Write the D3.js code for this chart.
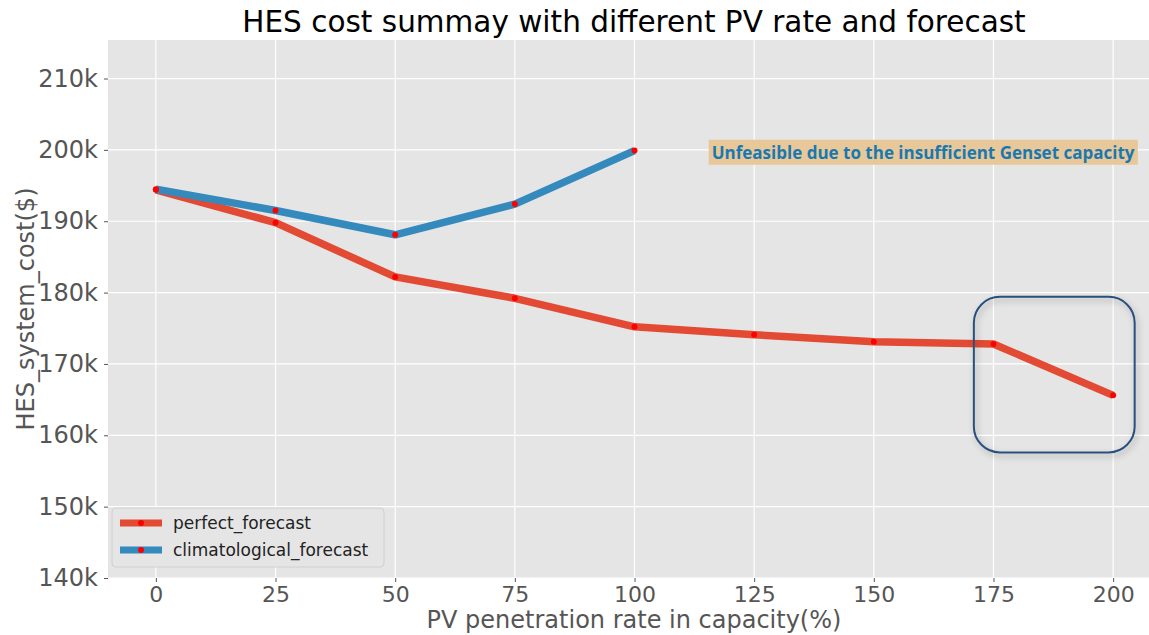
<!DOCTYPE html>
<html>
<head>
<meta charset="utf-8">
<script src="https://cdn.jsdelivr.net/npm/d3@7"></script>
<style>
body { margin: 0; background: #fff; }
svg { display: block; font-family: "DejaVu Sans", sans-serif; }
</style>
</head>
<body>
<div id="chart"></div>
<script>
// PV penetration (%) and costs ($)
var pvRates = [0, 25, 50, 75, 100, 125, 150, 175, 200];
var perfectCost = [194400, 189800, 182200, 179200, 175200, 174100, 173100, 172800, 165600];
var climRates = [0, 25, 50, 75, 100];
var climCost = [194500, 191500, 188100, 192400, 199900];
var yTicks = [140000, 150000, 160000, 170000, 180000, 190000, 200000, 210000];
var xTicks = [0, 25, 50, 75, 100, 125, 150, 175, 200];
var seriesNames = ["perfect_forecast", "climatological_forecast"];
var colors = ["#E24A33", "#348ABD"];

var W = 1149, H = 635;
var margin = {left: 108, top: 40, right: 0, bottom: 57};
var plotW = W - margin.left - margin.right, plotH = H - margin.top - margin.bottom;

var svg = d3.select("#chart").append("svg").attr("width", W).attr("height", H);
var defs = svg.append("defs");
var f = defs.append("filter").attr("id", "shadow").attr("x", "-20%").attr("y", "-20%").attr("width", "140%").attr("height", "140%");
f.append("feDropShadow").attr("dx", 2).attr("dy", 3).attr("stdDeviation", 3).attr("flood-color", "#000").attr("flood-opacity", 0.3);

var g = svg.append("g").attr("transform", "translate(" + margin.left + "," + margin.top + ")");

var x = d3.scaleLinear().domain([-10, 210]).range([0, 1161 - margin.left]);
var y = d3.scaleLinear().domain([140000, 215400]).range([plotH, 0]);

g.append("rect").attr("width", plotW).attr("height", plotH).attr("fill", "#E5E5E5");

// grid
g.append("g").selectAll("line").data(xTicks).enter().append("line")
    .attr("x1", function(d) { return x(d); }).attr("x2", function(d) { return x(d); })
    .attr("y1", 0).attr("y2", plotH).attr("stroke", "#fff").attr("stroke-width", 1.2);
g.append("g").selectAll("line").data(yTicks).enter().append("line")
    .attr("y1", function(d) { return y(d); }).attr("y2", function(d) { return y(d); })
    .attr("x1", 0).attr("x2", plotW).attr("stroke", "#fff").attr("stroke-width", 1.2);

// axes
var yAxis = g.append("g").call(d3.axisLeft(y).tickValues(yTicks).tickSize(4).tickPadding(6)
    .tickFormat(function(d) { return (d / 1000) + "k"; }));
yAxis.select(".domain").remove();
yAxis.selectAll("line").attr("stroke", "#555");
yAxis.selectAll("text").attr("fill", "#555").style("font-size", "24px").style("font-family", "DejaVu Sans");

var xAxis = g.append("g").attr("transform", "translate(0," + plotH + ")")
    .call(d3.axisBottom(x).tickValues(xTicks).tickSize(4).tickPadding(4));
xAxis.select(".domain").remove();
xAxis.selectAll("line").attr("stroke", "#555");
xAxis.selectAll("text").attr("fill", "#555").style("font-size", "22px").style("font-family", "DejaVu Sans");

// lines
var line = d3.line().x(function(d) { return x(d[0]); }).y(function(d) { return y(d[1]); });
var perfect = pvRates.map(function(r, i) { return [r, perfectCost[i]]; });
var clim = climRates.map(function(r, i) { return [r, climCost[i]]; });
var series = [perfect, clim];

series.forEach(function(s, i) {
    g.append("path").datum(s).attr("d", line).attr("fill", "none")
        .attr("stroke", colors[i]).attr("stroke-width", 7.5).attr("stroke-linejoin", "round");
});
series.forEach(function(s) {
    g.append("g").selectAll("circle").data(s).enter().append("circle")
        .attr("cx", function(d) { return x(d[0]); }).attr("cy", function(d) { return y(d[1]); })
        .attr("r", 3).attr("fill", "red");
});

// annotation text with background
var ann = g.append("g").attr("transform", "translate(" + x(115.5) + "," + y(199600) + ")");
var annText = ann.append("text").text("Unfeasible due to the insufficient Genset capacity")
    .attr("x", 3).attr("y", 6).attr("fill", "#1a78b0").style("font-weight", "bold")
    .style("font-family", "Open Sans").style("font-size", "17px");
var bb = annText.node().getBBox();
ann.insert("rect", "text").attr("x", bb.x - 3).attr("y", bb.y - 1).attr("width", bb.width + 6).attr("height", bb.height + 2)
    .attr("fill", "#E8C898");

// rounded highlight box
g.append("rect").attr("x", x(170.9)).attr("y", y(179400))
    .attr("width", x(204.5) - x(170.9)).attr("height", y(157600) - y(179400))
    .attr("rx", 26).attr("fill", "none").attr("stroke", "#2B4F7E").attr("stroke-width", 2)
    .attr("filter", "url(#shadow)");

// legend
var leg = g.append("g").attr("transform", "translate(4," + (508 - margin.top) + ")");
leg.append("rect").attr("width", 272).attr("height", 59).attr("rx", 4)
    .attr("fill", "#E5E5E5").attr("stroke", "#d0d0d0").attr("stroke-width", 1);
seriesNames.forEach(function(name, i) {
    var yy = 15 + i * 27;
    leg.append("line").attr("x1", 8).attr("x2", 50).attr("y1", yy).attr("y2", yy)
        .attr("stroke", colors[i]).attr("stroke-width", 7);
    leg.append("circle").attr("cx", 29).attr("cy", yy).attr("r", 3).attr("fill", "red");
    leg.append("text").attr("x", 61).attr("y", yy).attr("dy", "0.35em").text(name)
        .attr("fill", "#222").style("font-size", "17px");
});

// titles
svg.append("text").attr("x", 634).attr("y", 32).attr("text-anchor", "middle")
    .style("font-size", "29.5px").attr("fill", "#000").text("HES cost summay with different PV rate and forecast");
svg.append("text").attr("transform", "translate(34," + (margin.top + plotH / 2) + ") rotate(-90)")
    .attr("text-anchor", "middle").style("font-size", "24px").attr("fill", "#555").text("HES_system_cost($)");
svg.append("text").attr("x", 634).attr("y", 628).attr("text-anchor", "middle")
    .style("font-size", "24px").attr("fill", "#555")
    .text("PV penetration rate in capacity(%)");
</script>
</body>
</html>
